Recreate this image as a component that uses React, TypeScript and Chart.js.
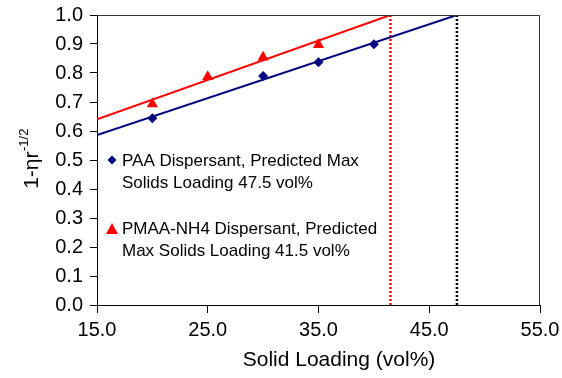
import React, { useEffect, useRef } from "react";
import { Chart, registerables } from "chart.js";
Chart.register(...registerables);

const paaX = [20, 30, 35, 40];
const paaY = [0.644, 0.79, 0.837, 0.899];
const pmaaX = [20, 25, 30, 35];
const pmaaY = [0.693, 0.787, 0.854, 0.897];
const paaFitX = [15, 47.5];
const paaFitY = [0.586, 1.0];
const pmaaFitX = [15, 41.5];
const pmaaFitY = [0.64, 1.0];
const paaMax = 47.5;
const pmaaMax = 41.5;
const legendPAA = ["PAA Dispersant, Predicted Max", "Solids Loading 47.5 vol%"];
const legendPMAA = ["PMAA-NH4 Dispersant, Predicted", "Max Solids Loading 41.5 vol%"];
const xTitle = "Solid Loading (vol%)";
const yTitleMain = "1-ηr";
const yTitleSup = "-1/2";

const FONT = "'Liberation Sans', Arial, Helvetica, sans-serif";
const BLUE = "#000080";
const RED = "#ff0000";

const pts = (xs: number[], ys: number[]) => xs.map((x, i) => ({ x, y: ys[i] }));

const decor = {
  id: "decor",
  afterDraw(chart: any) {
    const { ctx, chartArea } = chart;
    ctx.save();
    // top/right border
    ctx.strokeStyle = "#333";
    ctx.lineWidth = 1;
    ctx.beginPath();
    ctx.moveTo(chartArea.left, chartArea.top + 0.5);
    ctx.lineTo(chartArea.right - 0.5, chartArea.top + 0.5);
    ctx.lineTo(chartArea.right - 0.5, chartArea.bottom);
    ctx.stroke();

    // legend
    ctx.fillStyle = BLUE;
    const dx = 112, dy = 160, r = 4.5;
    ctx.beginPath();
    ctx.moveTo(dx, dy - r);
    ctx.lineTo(dx + r, dy);
    ctx.lineTo(dx, dy + r);
    ctx.lineTo(dx - r, dy);
    ctx.closePath();
    ctx.fill();
    ctx.fillStyle = RED;
    const tx = 112, ty = 229;
    ctx.beginPath();
    ctx.moveTo(tx, ty - 6);
    ctx.lineTo(tx + 6, ty + 5);
    ctx.lineTo(tx - 6, ty + 5);
    ctx.closePath();
    ctx.fill();

    ctx.fillStyle = "#000";
    ctx.font = `17px ${FONT}`;
    ctx.textAlign = "left";
    ctx.textBaseline = "alphabetic";
    ctx.fillText(legendPAA[0], 122, 166);
    ctx.fillText(legendPAA[1], 122, 188);
    ctx.fillText(legendPMAA[0], 122, 234);
    ctx.fillText(legendPMAA[1], 122, 256);

    // x title
    ctx.font = `21px ${FONT}`;
    ctx.textAlign = "center";
    ctx.textBaseline = "middle";
    ctx.fillText(xTitle, 339, 360);

    // y title
    ctx.translate(38, 159);
    ctx.rotate(-Math.PI / 2);
    ctx.textAlign = "left";
    ctx.textBaseline = "alphabetic";
    ctx.font = `21px ${FONT}`;
    const w1 = ctx.measureText(yTitleMain).width;
    ctx.font = `13px ${FONT}`;
    const w2 = ctx.measureText(yTitleSup).width;
    const start = -(w1 + w2) / 2;
    ctx.font = `21px ${FONT}`;
    ctx.fillText(yTitleMain, start, 0);
    ctx.font = `13px ${FONT}`;
    ctx.fillText(yTitleSup, start + w1 + 0.5, -10);
    ctx.restore();
  },
};

export default function App() {
  const ref = useRef<HTMLCanvasElement>(null);
  useEffect(() => {
    const chart = new Chart(ref.current!, {
      type: "scatter",
      data: {
        datasets: [
          {
            data: pts(paaX, paaY),
            pointStyle: "rectRot",
            pointRadius: 5,
            backgroundColor: BLUE,
            borderColor: BLUE,
            borderWidth: 0,
            showLine: false,
          },
          {
            data: pts(pmaaX, pmaaY),
            pointStyle: "triangle",
            pointRadius: 6.5,
            backgroundColor: RED,
            borderColor: RED,
            borderWidth: 0,
            showLine: false,
          },
          {
            data: pts(paaFitX, paaFitY),
            showLine: true,
            pointRadius: 0,
            borderColor: BLUE,
            borderWidth: 2,
          },
          {
            data: pts(pmaaFitX, pmaaFitY),
            showLine: true,
            pointRadius: 0,
            borderColor: RED,
            borderWidth: 2,
          },
          {
            data: [
              { x: pmaaMax, y: 0 },
              { x: pmaaMax, y: 1 },
            ],
            showLine: true,
            pointRadius: 0,
            borderColor: RED,
            borderWidth: 2.5,
            borderDash: [2, 2],
          },
          {
            data: [
              { x: paaMax, y: 0 },
              { x: paaMax, y: 1 },
            ],
            showLine: true,
            pointRadius: 0,
            borderColor: "#000",
            borderWidth: 2.5,
            borderDash: [2, 2],
          },
        ],
      },
      options: {
        animation: false,
        responsive: false,
        layout: { padding: { left: 0, right: 22, top: 15, bottom: 0 } },
        plugins: { legend: { display: false }, tooltip: { enabled: false } },
        scales: {
          x: {
            type: "linear",
            min: 15,
            max: 55,
            afterFit: (s: any) => {
              s.height = 73;
              s.paddingLeft = 0;
              s.paddingRight = 0;
            },
            ticks: {
              stepSize: 10,
              color: "#000",
              padding: 5,
              maxRotation: 0,
              font: { size: 20, family: FONT },
              callback: (v: any) => Number(v).toFixed(1),
            },
            grid: { drawOnChartArea: false, tickLength: 8, color: "#000" },
            border: { color: "#000", width: 1 },
          },
          y: {
            min: 0,
            max: 1,
            afterFit: (s: any) => {
              s.width = 97;
              s.paddingTop = 0;
              s.paddingBottom = 0;
            },
            ticks: {
              stepSize: 0.1,
              color: "#000",
              padding: 7,
              font: { size: 20, family: FONT },
              callback: (v: any) => Number(v).toFixed(1),
            },
            grid: { drawOnChartArea: false, tickLength: 7, color: "#000" },
            border: { color: "#000", width: 1 },
          },
        },
      },
      plugins: [decor],
    });
    return () => chart.destroy();
  }, []);
  return (
    <div style={{ position: "fixed", left: 0, top: 0, width: 562, height: 378, background: "#fff" }}>
      <canvas ref={ref} width={562} height={378} />
    </div>
  );
}
